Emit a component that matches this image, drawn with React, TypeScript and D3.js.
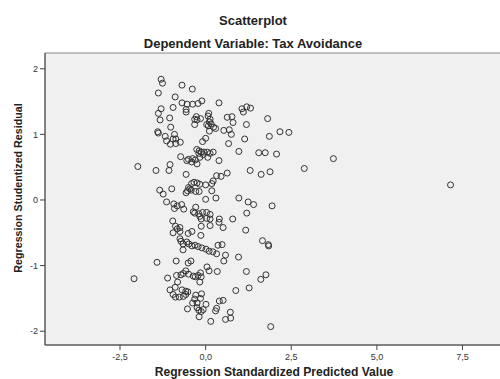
import React from "react";
import * as d3 from "d3";

const titleMain = "Scatterplot";
const titleSub = "Dependent Variable: Tax Avoidance";
const xTitle = "Regression Standardized Predicted Value";
const yTitle = "Regression Studentized Residual";

const xTicks = [-2.5, 0, 2.5, 5, 7.5];
const yTicks = [-2, -1, 0, 1, 2];
const xDomain = [-4.69, 8.74];
const yDomain = [-2.21, 2.24];

const predicted = [
  -1.30, -1.26, -0.69, -0.39, -1.38, -0.89, -0.69, -0.54, -0.38, -0.22, -0.11, 0.39, -1.30, -0.95, -0.57, -0.57,
  -1.38, -0.27, -0.32, -0.25, -0.15, 0.09, 0.07, 0.13, 0.11, 0.16, 0.03, 0.23, 0.08, -1.33, -1.05, -0.32,
  0.29, -1.02, 0.11, -1.40, -1.38, -1.18, -0.91, -0.95, -0.87, -1.14, -1.03, -0.87, -0.74, -0.09, 0.00, -0.26,
  -0.19, -0.13, -0.05, 0.05, 0.13, 0.22, -0.20, -0.73, -0.50, -0.38, -0.17, -0.07, 0.06, -0.55, -0.41, -0.30,
  -0.25, 0.39, -1.98, -1.45, -1.04, -1.07, -0.57, 0.32, -0.41, -0.34, -0.25, -0.17, 0.00, 0.18, 0.22, -1.34,
  -1.24, -0.99, -0.53, -0.46, -0.50, -0.42, -0.29, -0.19, -0.57, 0.18, 0.00, -1.14, -0.93, -0.83, -0.70, -0.64,
  -0.91, -0.29, -0.36, -0.32, -0.20, -0.09, 0.03, 0.13, -0.17, -0.13, 0.13, 0.03, 0.30, 0.40, 0.39, -0.96,
  -0.88, -0.75, -0.75, -0.83, -0.95, -0.40, -0.51, -0.14, 0.13, -0.13, -0.75, -0.72, -0.66, -0.55, -0.49, -0.40,
  -0.31, -0.22, -0.11, 0.01, 0.10, 0.21, 0.32, 0.36, -0.66, 0.48, -1.42, -0.86, -0.51, -0.43, -2.09, -1.11,
  -0.85, -0.72, -0.65, -0.58, -0.50, -0.36, -0.30, -0.22, -0.15, -0.13, 0.04, 0.10, 0.34, -0.82, -0.17, -0.89,
  -1.04, -0.69, -0.58, -0.52, -0.95, -0.88, -0.77, -0.65, -0.58, -0.29, -0.12, -0.15, -0.32, -0.38, -0.25, 0.40,
  0.01, -0.07, -0.13, -0.25, -0.20, -0.53, 0.32, 0.29, -0.19, 0.15, 1.06, 1.20, 1.31, 1.10, 0.63, 0.77,
  0.80, 1.81, 1.19, 0.53, 0.69, 0.75, 2.17, 2.43, 1.86, 1.14, 0.67, 0.97, 1.55, 1.74, 2.07, 2.88,
  1.30, 0.63, 0.45, 1.62, 1.88, 0.97, 1.24, 1.40, 1.94, 1.20, 0.51, 0.79, 1.17, 1.66, 1.83, 1.84,
  0.58, 0.53, 0.96, 1.19, 1.76, 1.61, 0.88, 1.27, 0.51, 0.72, 0.73, 0.58, 1.90, 3.73, 7.15,
];

const residual = [
  1.84, 1.78, 1.75, 1.69, 1.63, 1.57, 1.48, 1.46, 1.46, 1.47, 1.51, 1.48, 1.39, 1.41, 1.38, 1.34,
  1.32, 1.27, 1.23, 1.22, 1.24, 1.32, 1.28, 1.23, 1.19, 1.16, 1.15, 1.11, 1.13, 1.22, 1.25, 1.15,
  1.09, 1.11, 1.05, 1.04, 1.02, 0.97, 1.00, 0.93, 0.93, 0.90, 0.85, 0.86, 0.88, 0.89, 0.94, 0.77,
  0.75, 0.73, 0.73, 0.73, 0.71, 0.73, 0.71, 0.66, 0.62, 0.63, 0.65, 0.69, 0.65, 0.60, 0.58, 0.61,
  0.55, 0.60, 0.51, 0.45, 0.54, 0.45, 0.39, 0.37, 0.25, 0.27, 0.26, 0.24, 0.23, 0.25, 0.29, 0.15,
  0.09, 0.17, 0.14, 0.17, 0.19, 0.15, 0.13, 0.13, 0.11, 0.14, 0.01, -0.03, -0.06, -0.09, -0.07, -0.14,
  -0.13, -0.11, -0.18, -0.20, -0.21, -0.19, -0.19, -0.22, -0.25, -0.29, -0.29, -0.28, 0.03, -0.29, -0.34, -0.32,
  -0.40, -0.42, -0.48, -0.44, -0.50, -0.48, -0.51, -0.54, -0.39, -0.40, -0.59, -0.63, -0.67, -0.64, -0.67, -0.70,
  -0.69, -0.71, -0.73, -0.75, -0.78, -0.79, -0.82, -0.69, -0.76, -0.68, -0.95, -0.93, -0.96, -0.93, -1.20, -1.19,
  -1.15, -1.14, -1.12, -1.08, -1.13, -1.16, -1.17, -1.15, -1.11, -1.17, -1.02, -1.08, -1.09, -1.25, -1.25, -1.33,
  -1.37, -1.37, -1.39, -1.40, -1.44, -1.48, -1.48, -1.47, -1.44, -1.45, -1.43, -1.50, -1.51, -1.57, -1.57, -1.54,
  -1.59, -1.67, -1.70, -1.64, -1.68, -1.66, -1.65, -1.69, -1.78, -1.85, 1.39, 1.42, 1.40, 1.34, 1.26, 1.27,
  1.18, 1.24, 1.15, 1.06, 1.07, 1.00, 1.04, 1.03, 0.97, 0.93, 0.86, 0.74, 0.72, 0.72, 0.70, 0.48,
  0.45, 0.41, 0.36, 0.39, 0.43, 0.03, -0.03, -0.07, -0.09, -0.20, -0.42, -0.29, -0.46, -0.62, -0.68, -0.70,
  -0.84, -0.93, -0.87, -1.09, -1.14, -1.21, -1.38, -1.34, -1.53, -1.71, -1.80, -1.82, -1.93, 0.63, 0.23,
];

const fmt = (v: number) => d3.format(".1f")(v).replace(".", ",").replace("−", "-");

export default function App() {
  const W = 500;
  const H = 379;
  const left = 45;
  const right = 505;
  const top = 53;
  const bottom = 345;
  const x = d3.scaleLinear().domain(xDomain).range([left, right]);
  const y = d3.scaleLinear().domain(yDomain).range([bottom, top]);
  const font = "'Liberation Sans', Arial, sans-serif";
  const points = predicted.map((p, i) => [p, residual[i]]);

  return (
    <svg
      width={W}
      height={H}
      style={{ position: "absolute", left: 0, top: 0, background: "#fff" }}
      fontFamily={font}
    >
      <rect x={0} y={0} width={W} height={H} fill="#fff" />
      <text x={253} y={24.5} textAnchor="middle" fontWeight="bold" fontSize={13} fill="#222">
        {titleMain}
      </text>
      <text x={253} y={47.5} textAnchor="middle" fontWeight="bold" fontSize={13} fill="#222">
        {titleSub}
      </text>
      <rect x={left} y={top} width={right - left} height={bottom - top} fill="#F0F0F0" stroke="#888" strokeWidth={1} />
      {points.map(([px, py], i) => (
        <circle key={i} cx={x(px)} cy={y(py)} r={3} fill="none" stroke="#333" strokeWidth={1} />
      ))}
      <line x1={left} x2={left} y1={top} y2={bottom} stroke="#444" strokeWidth={1} />
      <line x1={left} x2={right} y1={bottom} y2={bottom} stroke="#444" strokeWidth={1} />
      {yTicks.map((t) => (
        <g key={"y" + t}>
          <line x1={left - 5} x2={left} y1={y(t)} y2={y(t)} stroke="#444" />
          <text x={left - 7} y={y(t)} dy="0.35em" textAnchor="end" fontSize={9} fill="#333">
            {String(t)}
          </text>
        </g>
      ))}
      {xTicks.map((t) => (
        <g key={"x" + t}>
          <line x1={x(t)} x2={x(t)} y1={bottom} y2={bottom + 5} stroke="#444" />
          <text x={x(t)} y={bottom + 15} textAnchor="middle" fontSize={9} fill="#333">
            {fmt(t)}
          </text>
        </g>
      ))}
      <text x={274} y={375.5} textAnchor="middle" fontWeight="bold" fontSize={12.1} fill="#222">
        {xTitle}
      </text>
      <text
        transform={`translate(21.5,188) rotate(-90)`}
        textAnchor="middle"
        fontWeight="bold"
        fontSize={10.7}
        fill="#222"
      >
        {yTitle}
      </text>
    </svg>
  );
}
